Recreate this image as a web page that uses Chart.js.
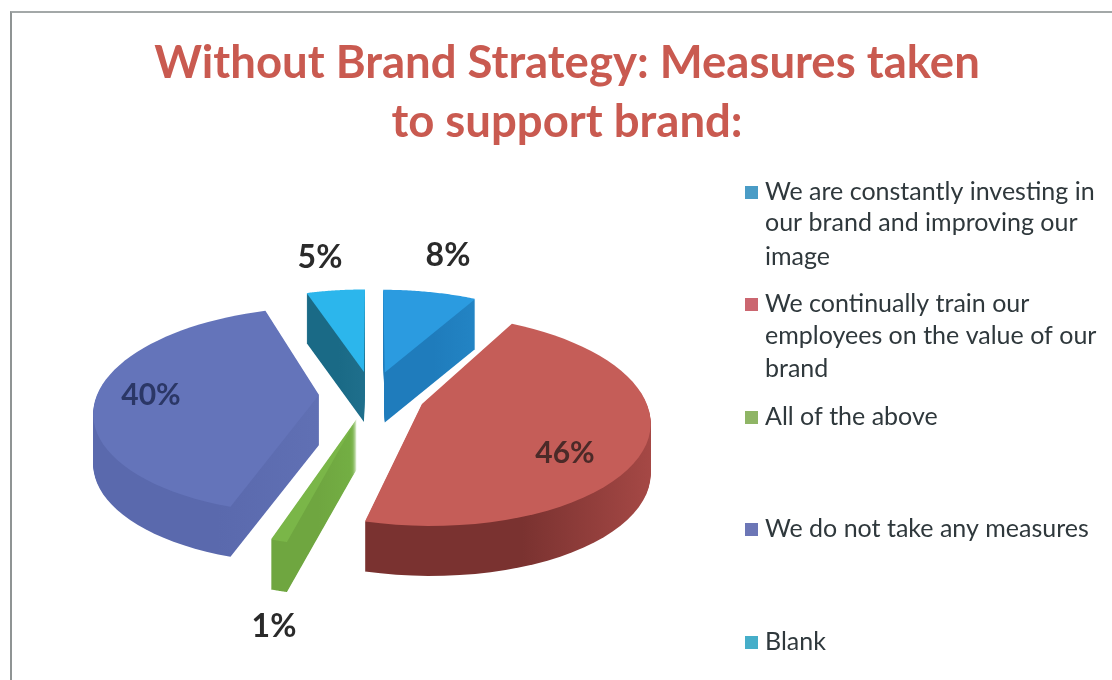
<!DOCTYPE html>
<html>
<head>
<meta charset="utf-8">
<title>Measures taken to support brand</title>
<script src="https://cdn.jsdelivr.net/npm/chart.js@4/dist/chart.umd.min.js"></script>
<style>
    html, body { margin: 0; height: 100%; background: #fff; overflow: hidden; }
    #frame {
        position: absolute; left: 10px; top: 11px; width: 1102px; height: 669px;
        border-left: 2px solid #8f9494; border-top: 2px solid #a3a8a8; overflow: hidden;
    }
    #brandChart { display: block; }
</style>
</head>
<body>
<div id="frame"><canvas id="brandChart" width="1110" height="667"></canvas></div>
<script>
const categories = [
    'We are constantly investing in our brand and improving our image',
    'We continually train our employees on the value of our brand',
    'All of the above',
    'We do not take any measures',
    'Blank'
];
const shares = [8, 46, 1, 40, 5];
const titleLines = ['Without Brand Strategy: Measures taken', 'to support brand:'];
const legendLines = [
    ['We are constantly investing in', 'our brand and improving our', 'image'],
    ['We continually train our', 'employees on the value of our', 'brand'],
    ['All of the above'],
    ['We do not take any measures'],
    ['Blank']
];
const topColors = ['#2b9be0', '#c55d58', '#7ab648', '#6474ba', '#2cb6ec'];
const sideColors = [['#1f7cbc', '#2384c4'], ['#7a3230', '#a54845'], ['#6fa640', '#74b044'], ['#5a69ad', '#6070b4'], ['#1a6a86', '#1f6f8c']];
const swatchColors = ['#4a9cc6', '#cb6670', '#8fb565', '#6c76b6', '#46aec9'];

// canvas position of the value labels and legend rows
const valueLabelAt = [[436, 243], [553, 440], [262, 614], [139, 382], [308, 245]];
const valueLabelFont = [32, 30, 32, 30, 32];
const valueLabelColors = ['#2a2a2a', '#4b2a28', '#2a2a2a', '#2b3766', '#2a2a2a'];
const legendRowY = [[179, 210, 244], [291, 323, 356], [404], [516], [629]];

// fake-3D projection of the pie
const pie = { x: 360, y: 382, radius: 222, explode: 53, tilt: 0.455, depth: 50, view: 1500 };

function project(wx, wy) {
    const s = pie.view / (pie.view - wy);
    return [pie.x + wx * s, pie.y + wy * pie.tilt * s];
}

function tracePath(ctx, pts, drop) {
    ctx.beginPath();
    pts.forEach((p, i) => {
        if (i === 0) ctx.moveTo(p[0], p[1] + drop);
        else ctx.lineTo(p[0], p[1] + drop);
    });
    ctx.closePath();
}

function slicePoints(arc) {
    const mid = (arc.startAngle + arc.endAngle) / 2;
    const ax = Math.cos(mid) * pie.explode;
    const ay = Math.sin(mid) * pie.explode;
    const pts = [project(ax, ay)];
    const steps = 48;
    for (let i = 0; i <= steps; i++) {
        const a = arc.startAngle + (arc.endAngle - arc.startAngle) * i / steps;
        pts.push(project(ax + Math.cos(a) * arc.outerRadius, ay + Math.sin(a) * arc.outerRadius));
    }
    return pts;
}

const pie3d = {
    id: 'pie3d',
    beforeDatasetsDraw(chart) {
        const ctx = chart.ctx;
        const arcs = chart.getDatasetMeta(0).data;
        // back slices first so the front ones sit on top
        [4, 0, 3, 1, 2].forEach(i => {
            const pts = slicePoints(arcs[i]);
            const xs = pts.map(p => p[0]);
            const grad = ctx.createLinearGradient(Math.min(...xs), 0, Math.max(...xs), 0);
            grad.addColorStop(0.55, sideColors[i][0]);
            grad.addColorStop(1, sideColors[i][1]);
            ctx.fillStyle = grad;
            for (let d = pie.depth; d > 0; d--) {
                tracePath(ctx, pts, d);
                ctx.fill();
            }
            ctx.fillStyle = topColors[i];
            tracePath(ctx, pts, 0);
            ctx.fill();
        });
        return false;
    },
    afterDraw(chart) {
        const ctx = chart.ctx;
        ctx.save();
        ctx.textBaseline = 'middle';
        ctx.textAlign = 'center';
        shares.forEach((v, i) => {
            ctx.font = 'bold ' + valueLabelFont[i] + 'px Lato';
            ctx.fillStyle = valueLabelColors[i];
            ctx.fillText(v + '%', valueLabelAt[i][0], valueLabelAt[i][1]);
        });
        // wrapped legend on the right
        ctx.textAlign = 'left';
        ctx.font = '25px Lato';
        legendLines.forEach((lines, i) => {
            ctx.fillStyle = swatchColors[i];
            ctx.fillRect(733, legendRowY[i][0] - 6, 13, 13);
            ctx.fillStyle = '#2f383c';
            lines.forEach((line, j) => ctx.fillText(line, 753, legendRowY[i][j]));
        });
        ctx.restore();
    }
};

new Chart(document.getElementById('brandChart'), {
    type: 'pie',
    data: {
        labels: categories,
        datasets: [{
            data: shares,
            backgroundColor: topColors,
            borderWidth: 0
        }]
    },
    options: {
        responsive: false,
        animation: false,
        radius: pie.radius,
        plugins: {
            legend: { display: false },
            tooltip: { enabled: false },
            title: {
                display: true,
                text: titleLines,
                color: '#c95a50',
                font: { family: 'Lato', size: 45.5, weight: 'bold', lineHeight: 1.29 },
                padding: { top: 21, bottom: 0 }
            }
        }
    },
    plugins: [pie3d]
});
</script>
</body>
</html>
